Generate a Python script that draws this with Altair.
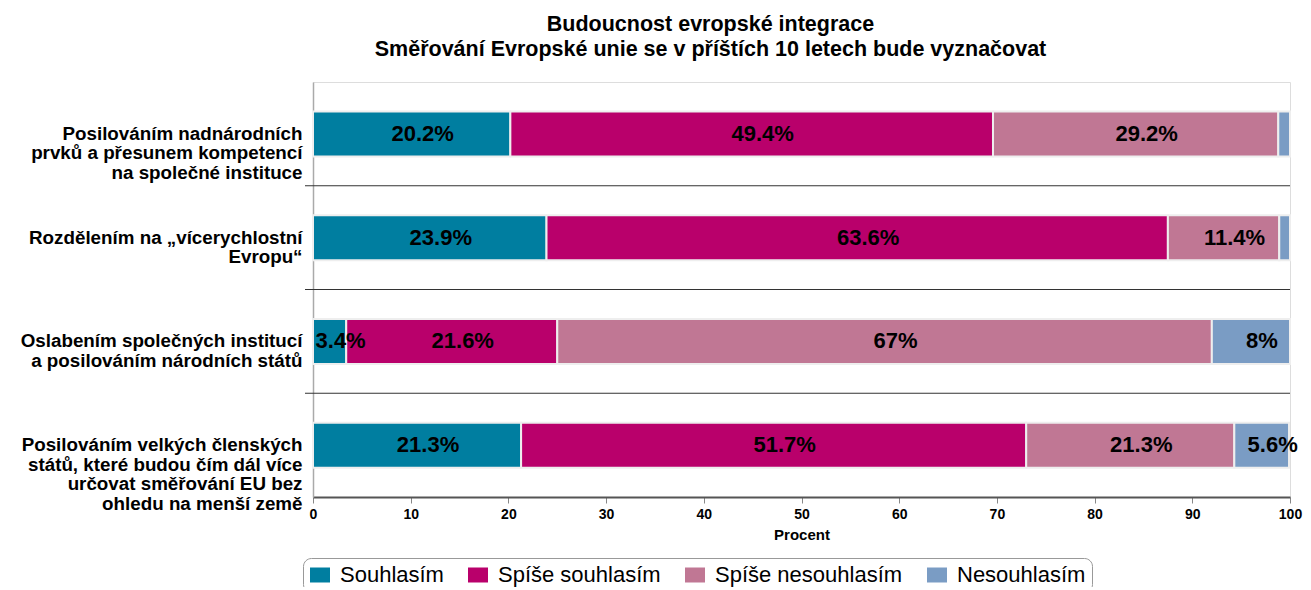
import altair as alt
import pandas as pd

categories = [
    "Posilováním nadnárodních|prvků a přesunem kompetencí|na společné instituce",
    "Rozdělením na „vícerychlostní|Evropu“",
    "Oslabením společných institucí|a posilováním národních států",
    "Posilováním velkých členských|států, které budou čím dál více|určovat směřování EU bez|ohledu na menší země",
]
series = ["Souhlasím", "Spíše souhlasím", "Spíše nesouhlasím", "Nesouhlasím"]
souhlasim = [20.2, 23.9, 3.4, 21.3]
spise_souhlasim = [49.4, 63.6, 21.6, 51.7]
spise_nesouhlasim = [29.2, 11.4, 67.0, 21.3]
nesouhlasim = [1.2, 1.1, 8.0, 5.6]
colors = ["#007EA0", "#B9006B", "#C07794", "#7A9CC4"]

values_by_series = [souhlasim, spise_souhlasim, spise_nesouhlasim, nesouhlasim]
rows = []
for si, (s, vals) in enumerate(zip(series, values_by_series)):
    for ci, c in enumerate(categories):
        rows.append({"cat": c, "series": s, "order": si, "value": vals[ci]})
df = pd.DataFrame(rows)
sep_df = pd.DataFrame({"cat": categories[:-1]})

FONT = "Liberation Sans"
W, H = 977, 415

y_enc = alt.Y(
    "cat:N",
    sort=categories,
    scale=alt.Scale(domain=categories, paddingInner=0, paddingOuter=0),
    axis=alt.Axis(
        title=None,
        labelExpr="split(datum.label, '|')",
        labelFont=FONT,
        labelFontSize=18.8,
        labelFontWeight="bold",
        labelColor="#000",
        labelPadding=11,
        labelLineHeight=19.5,
        labelLimit=400,
        ticks=False,
        domainColor="#aaaaaa",
        domainWidth=1.5,
    ),
)

base = alt.Chart(df).transform_stack(
    stack="value", as_=["x0", "x1"], groupby=["cat"], sort=[alt.SortField("order")]
)

bars = base.mark_bar(size=45, stroke="#eeeeee", strokeWidth=2).encode(
    y=y_enc,
    x=alt.X(
        "x0:Q",
        scale=alt.Scale(domain=[0, 100], nice=False),
        axis=alt.Axis(
            title="Procent",
            values=list(range(0, 101, 10)),
            grid=False,
            labelFont=FONT,
            labelFontSize=14,
            labelFontWeight="bold",
            labelColor="#000",
            labelPadding=4,
            titleFont=FONT,
            titleFontSize=15,
            titleFontWeight="bold",
            titleColor="#000",
            titlePadding=6,
            tickColor="#888888",
            tickSize=6,
            domainColor="#555555",
            domainWidth=2,
            labelFlush=False,
        ),
    ),
    x2="x1:Q",
    color=alt.Color(
        "series:N",
        sort=series,
        scale=alt.Scale(domain=series, range=colors),
        legend=alt.Legend(
            title=None,
            orient="none",
            direction="horizontal",
            legendX=-10,
            legendY=476,
            labelFont=FONT,
            labelFontSize=22,
            labelColor="#000",
            labelLimit=400,
            symbolType="M-1,-0.75H1V0.75H-1Z",
            symbolSize=400,
            symbolStrokeWidth=0,
            symbolOpacity=1,
            columnPadding=23,
            labelOffset=9,
            strokeColor="#999999",
            cornerRadius=8,
            padding=6,
        ),
    ),
    order=alt.Order("order:Q"),
)

labels = (
    base.transform_filter("datum.value >= 3")
    .transform_calculate(mid="(datum.x0 + datum.x1) / 2", txt="toString(datum.value) + '%'")
    .mark_text(font=FONT, fontSize=22, fontWeight="bold", color="#000", dx=11)
    .encode(y=y_enc, x="mid:Q", text="txt:N")
)

seps = (
    alt.Chart(sep_df)
    .mark_rule(color="#333333", strokeWidth=1.2)
    .encode(
        y=alt.Y("cat:N", sort=categories, bandPosition=1),
        x=alt.value(-8),
        x2=alt.value(W),
    )
)

chart = (
    alt.layer(seps, bars, labels)
    .properties(
        width=W,
        height=H,
        autosize=alt.AutoSizeParams(type="none"),
        padding={"left": 305, "top": 74, "right": 13, "bottom": 90},
        title=alt.TitleParams(
            text=["Budoucnost evropské integrace", "Směřování Evropské unie se v příštích 10 letech bude vyznačovat"],
            font=FONT,
            fontSize=21.5,
            fontWeight="bold",
            color="#000",
            anchor="middle",
            dx=-91,
            lineHeight=25,
            offset=22,
        ),
    )
    .configure_view(stroke=None)
    .configure(background="white")
)

chart.save("out.html", embed_options={"renderer": "svg", "actions": False})
